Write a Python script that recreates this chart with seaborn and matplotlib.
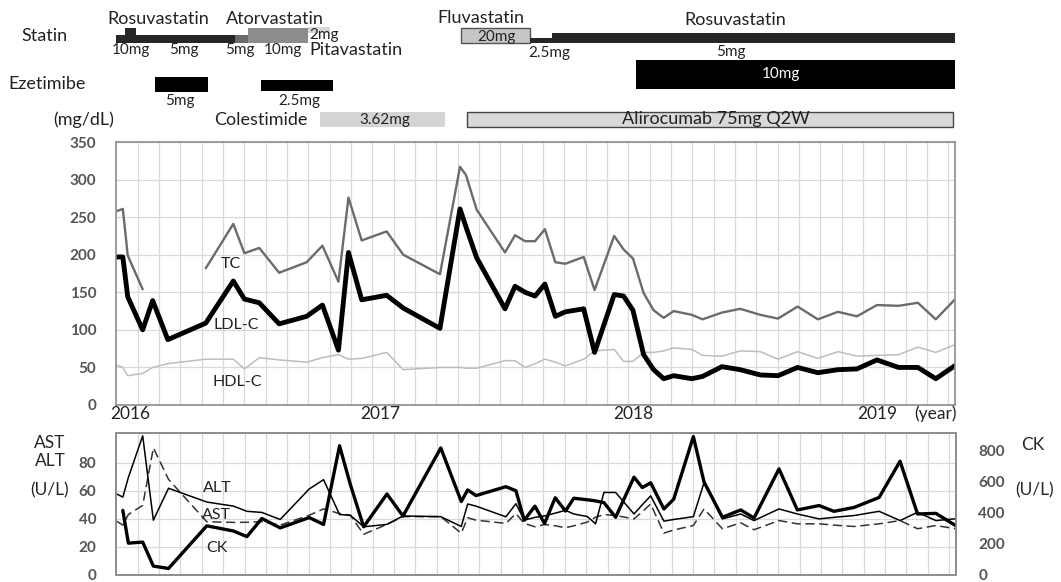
import numpy as np
import pandas as pd
import matplotlib
matplotlib.use("Agg")
import matplotlib.pyplot as plt
import seaborn as sns

# x axis: months since January 2016 (one vertical grid line per month)
lipid_month = [-0.98, -0.70, -0.47, 0.23, 0.70, 1.41, 3.19, 4.48, 5.00, 5.70, 6.63, 7.92, 8.66, 9.41,
               9.88, 10.50, 11.67, 12.45, 14.17, 15.11, 15.39, 15.89, 17.22, 17.69, 18.16, 18.63, 19.09,
               19.58, 20.05, 20.91, 21.42, 22.34, 22.78, 23.22, 23.72, 24.19, 24.66, 25.13, 25.98, 26.48,
               27.39, 28.25, 29.19, 30.02, 30.94, 31.89, 32.83, 33.72, 34.66, 35.67, 36.58, 37.42, 38.30]
tc = [258, 261, 199, 154, np.nan, np.nan, 182, 241, 202, 209, 176, 190, 212, 164,
      276, 219, 231, 200, 174, 317, 306, 260, 203, 226, 218, 218, 234,
      190, 188, 197, 153, 225, 207, 195, 149, 126, 116, 125, 120, 114,
      123, 128, 120, 115, 131, 114, 124, 118, 133, 132, 136, 114, 140]
ldl = [197, 197, 144, 100, 139, 87, 109, 165, 141, 136, 108, 118, 133, 73,
       203, 140, 146, 129, 102, 261, 237, 196, 128, 158, 150, 145, 161,
       118, 124, 128, 70, 147, 145, 126, 67, 47, 35, 39, 35, 38,
       51, 47, 40, 39, 50, 43, 47, 48, 60, 50, 50, 35, 52]
hdl = [53, 50, 39, 42, 50, 55, 61, 61, 48, 63, 60, 57, 63, 67,
       61, 62, 70, 47, 50, 50, 49, 49, 59, 59, 50, 55, 61,
       57, 52, 61, 72, 74, 58, 58, 70, 70, 72, 76, 74, 66,
       65, 72, 71, 61, 71, 62, 71, 65, 66, 67, 77, 70, 80]

liver_month = [-1.00, -0.70, -0.44, 0.23, 0.73, 1.44, 3.23, 4.48, 5.11, 5.81, 6.67, 8.03,
               8.70, 9.45, 9.95, 10.58, 11.67, 12.42, 14.19, 15.15, 15.45, 15.84, 17.24, 17.71,
               18.10, 18.60, 19.05, 19.55, 20.03, 20.42, 21.05, 21.44, 21.83, 22.38, 23.24, 23.63,
               24.02, 24.64, 25.10, 26.02, 26.52, 27.38, 28.24, 28.86, 30.03, 30.89, 31.91, 32.60,
               33.55, 34.72, 35.70, 36.52, 37.38, 38.30]
alt = [57.7, 55.4, 69.4, 99, 39, 61.7, 51.9, 49, 45.3, 44.5, 39.5, 61.2,
       67.8, 43, 42.5, 34.3, 36, 42, 41.5, 34.5, 50.5, 49, 41.4, 50.7,
       39, 41, 42, 44, 46, 43.4, 41.6, 36.4, 58.7, 58.7, 43.4, 50,
       56.3, 38.3, 39.5, 41.5, 65.7, 39.9, 43.4, 38.7, 47, 43.4, 39.9, 41,
       42.3, 45.3, 38.7, 44.6, 38.7, 40]
ast = [38.3, 35.5, 43, 49.5, 90.4, 68, 37.9, 37.4, 37.5, 38, 35.5, 42.5,
       47, 43.7, 42.5, 29, 36, 41.5, 41.5, 29.7, 40.7, 39, 36.7, 43.7,
       36.7, 34.3, 35.9, 35, 33.6, 35, 37.6, 41.1, 43, 42.3, 39.9, 45,
       50.5, 29.8, 32, 35.2, 47, 32.9, 37.1, 32.2, 38.7, 36.4, 36.4, 35.5,
       34.5, 36.4, 38.7, 32.9, 35.2, 32.9]
ck = [np.nan, 414, 204, 211, 57, 42, 315, 282, 246, 362, 302, 368,
      324, 828, 582, 309, 519, 378, 814, 471, 545, 509, 566, 540,
      351, 441, 330, 495, 410, 492, 482, 475, 464, 370, 627, 560,
      591, 423, 486, 887, 596, 370, 417, 365, 680, 417, 445, 408,
      433, 497, 729, 391, 395, 317]

years = ["2016", "2017", "2018", "2019"]
year_month = [-0.36, 11.36, 23.22, 34.66]

# treatment periods (months since Jan 2016)
drug = ["Rosuvastatin 10mg", "Rosuvastatin 5mg", "Atorvastatin 5mg", "Atorvastatin 10mg",
        "Pitavastatin 2mg", "Fluvastatin 20mg", "Rosuvastatin 2.5mg", "Rosuvastatin 5mg b",
        "Ezetimibe 5mg", "Ezetimibe 2.5mg", "Ezetimibe 10mg", "Colestimide 3.62mg",
        "Alirocumab 75mg Q2W"]
drug_start = [-0.60, -1.02, 4.56, 5.17, 7.98, 15.16, 18.40, 19.42, 0.82, 5.78, 23.36, 8.55, 15.44]
drug_end = [-0.08, 4.56, 5.17, 7.98, 9.02, 18.40, 19.42, 38.32, 3.30, 9.16, 38.32, 14.41, 38.23]

# drawing style of each treatment bar: top / bottom (px from figure top), face, edge
bar_style = {
    "Rosuvastatin 10mg": (28, 43, "#262626", "none"),
    "Rosuvastatin 5mg": (35, 43, "#262626", "none"),
    "Atorvastatin 5mg": (35, 43, "#6a6a6a", "none"),
    "Atorvastatin 10mg": (28, 43, "#8c8c8c", "none"),
    "Pitavastatin 2mg": (27, 33, "#d6d6d6", "none"),
    "Fluvastatin 20mg": (28, 43, "#c6c6c6", "#555555"),
    "Rosuvastatin 2.5mg": (38, 43, "#262626", "none"),
    "Rosuvastatin 5mg b": (33, 43, "#262626", "none"),
    "Ezetimibe 5mg": (77, 92, "black", "none"),
    "Ezetimibe 2.5mg": (80, 91, "black", "none"),
    "Ezetimibe 10mg": (60, 89, "black", "none"),
    "Colestimide 3.62mg": (112, 127, "#d4d4d4", "none"),
    "Alirocumab 75mg Q2W": (112, 127, "#d9d9d9", "#444444"),
}

W, H = 1061, 582
XLIM = (-1.02, 38.32)
GRID = "#d9d9d9"
TICK = "#555555"

sns.set_theme(style="white")
plt.rcParams["font.family"] = ["Lato", "DejaVu Sans"]

fig = plt.figure(figsize=(W / 100, H / 100), dpi=100)


def box(left, top, right, bottom):
    return [left / W, 1 - bottom / H, (right - left) / W, (bottom - top) / H]


ax_up = fig.add_axes(box(116, 142, 955, 405))
ax_lo = fig.add_axes(box(116, 433, 956, 575))
ax_tx = fig.add_axes(box(116, 0, 955, 132))

# ---- lipid panel
lip = pd.DataFrame({"month": lipid_month, "TC": tc, "LDL": ldl, "HDL": hdl})
lip["seg"] = lip["TC"].isna().cumsum()
sns.lineplot(data=lip, x="month", y="HDL", color="#bdbdbd", lw=1.1, ax=ax_up)
sns.lineplot(data=lip.dropna(subset=["TC"]), x="month", y="TC", units="seg", estimator=None,
             color="#6b6b6b", lw=1.7, ax=ax_up)
sns.lineplot(data=lip, x="month", y="LDL", color="black", lw=3.5, ax=ax_up)

ax_up.set_xlim(*XLIM)
ax_up.set_ylim(0, 350)
ax_up.set_yticks(range(0, 351, 50))
ax_up.set_xticks(year_month)
ax_up.set_xticklabels(years)
ax_up.set_xticks(range(0, 39), minor=True)
ax_up.grid(which="minor", axis="x", color=GRID, lw=0.9)
ax_up.grid(which="major", axis="y", color=GRID, lw=0.9)
ax_up.set_axisbelow(True)
ax_up.tick_params(axis="x", which="both", length=0, pad=1, labelsize=12.5, labelcolor="#222222")
ax_up.tick_params(axis="y", length=0, pad=14, labelsize=11, labelcolor=TICK)
for t in ax_up.get_yticklabels():
    t.set_fontweight("bold")
ax_up.set_xlabel("")
ax_up.set_ylabel("")
ax_up.text(37.4, -12, "(year)", ha="center", va="center", fontsize=12.5, color="#222222")
ax_up.text(4.35, 188, "TC", ha="center", va="center", fontsize=11.5, color="#222222")
ax_up.text(4.6, 107, "LDL-C", ha="center", va="center", fontsize=11.5, color="#222222")
ax_up.text(4.65, 30, "HDL-C", ha="center", va="center", fontsize=11.5, color="#222222")

# ---- liver / CK panel
liv = pd.DataFrame({"month": liver_month, "ALT": alt, "AST": ast, "CK": ck})
sns.lineplot(data=liv, x="month", y="AST", color="#333333", lw=1.1, linestyle=(0, (6, 3)), ax=ax_lo)
sns.lineplot(data=liv, x="month", y="ALT", color="black", lw=1.1, ax=ax_lo)
ax_ck = ax_lo.twinx()
sns.lineplot(data=liv.dropna(), x="month", y="CK", color="black", lw=2.4, ax=ax_ck)

ax_lo.set_xlim(*XLIM)
ax_lo.set_ylim(0, 101)
ax_lo.set_yticks(range(0, 81, 20))
ax_lo.set_xticks([])
ax_lo.set_xticks(range(0, 39), minor=True)
ax_lo.grid(which="minor", axis="x", color=GRID, lw=0.9)
ax_lo.grid(which="major", axis="y", color=GRID, lw=0.9)
ax_lo.set_axisbelow(True)
ax_lo.tick_params(axis="x", which="both", length=0)
ax_lo.tick_params(axis="y", length=0, pad=14, labelsize=11, labelcolor=TICK)
ax_ck.set_ylim(0, 910)
ax_ck.set_yticks(range(0, 801, 200))
ax_ck.grid(False)
ax_ck.tick_params(axis="y", length=0, pad=16, labelsize=11, labelcolor=TICK)
for a in (ax_lo, ax_ck):
    for t in a.get_yticklabels():
        t.set_fontweight("bold")
    a.set_xlabel("")
    a.set_ylabel("")
ax_lo.text(3.7, 62, "ALT", ha="center", va="center", fontsize=11.5, color="#222222")
ax_lo.text(3.7, 42.5, "AST", ha="center", va="center", fontsize=11.5, color="#222222")
ax_lo.text(3.7, 19, "CK", ha="center", va="center", fontsize=11.5, color="#222222")

for a in (ax_up, ax_lo, ax_ck):
    for s in a.spines.values():
        s.set_color("#8c8c8c")
        s.set_linewidth(1.2)

fig.text(50 / W, 1 - 443 / H, "AST", ha="center", va="center", fontsize=12.5)
fig.text(50 / W, 1 - 461 / H, "ALT", ha="center", va="center", fontsize=12.5)
fig.text(50 / W, 1 - 490 / H, "(U/L)", ha="center", va="center", fontsize=12.5)
fig.text(1033 / W, 1 - 445 / H, "CK", ha="center", va="center", fontsize=12.5)
fig.text(1035 / W, 1 - 490 / H, "(U/L)", ha="center", va="center", fontsize=12.5)

# ---- treatment timeline
ax_tx.set_xlim(*XLIM)
ax_tx.set_ylim(132, 0)
ax_tx.axis("off")
for name, s0, s1 in zip(drug, drug_start, drug_end):
    top, bot, fc, ec = bar_style[name]
    ax_tx.barh((top + bot) / 2, s1 - s0, left=s0, height=bot - top, color=fc,
               edgecolor=ec, linewidth=1.0 if ec != "none" else 0, align="center")

big = dict(fontsize=13, color="#222222", va="center")
small = dict(fontsize=11, color="#222222", va="center")
ax_tx.text(-4.39, 36, "Statin", ha="center", **big)
ax_tx.text(0.95, 19, "Rosuvastatin", ha="center", **big)
ax_tx.text(6.43, 19, "Atorvastatin", ha="center", **big)
ax_tx.text(8.03, 35, "2mg", ha="left", **small)
ax_tx.text(-0.31, 50, "10mg", ha="center", **small)
ax_tx.text(2.17, 50, "5mg", ha="center", **small)
ax_tx.text(4.8, 50, "5mg", ha="center", **small)
ax_tx.text(6.81, 50, "10mg", ha="center", **small)
ax_tx.text(8.05, 50, "Pitavastatin", ha="left", **big)
ax_tx.text(16.09, 18, "Fluvastatin", ha="center", **big)
ax_tx.text(16.8, 37, "20mg", ha="center", **small)
ax_tx.text(28.0, 20, "Rosuvastatin", ha="center", **big)
ax_tx.text(19.28, 53, "2.5mg", ha="center", **small)
ax_tx.text(27.8, 52, "5mg", ha="center", **small)
ax_tx.text(-4.25, 84, "Ezetimibe", ha="center", **big)
ax_tx.text(1.98, 101, "5mg", ha="center", **small)
ax_tx.text(7.56, 101, "2.5mg", ha="center", **small)
ax_tx.text(30.16, 74, "10mg", ha="center", fontsize=11, color="white", va="center")
ax_tx.text(-2.52, 120, "(mg/dL)", ha="center", **big)
ax_tx.text(5.78, 120, "Colestimide", ha="center", **big)
ax_tx.text(11.6, 120, "3.62mg", ha="center", **small)
ax_tx.text(27.1, 119, "Alirocumab 75mg Q2W", ha="center", **big)

fig.savefig("out.png", dpi=100)
